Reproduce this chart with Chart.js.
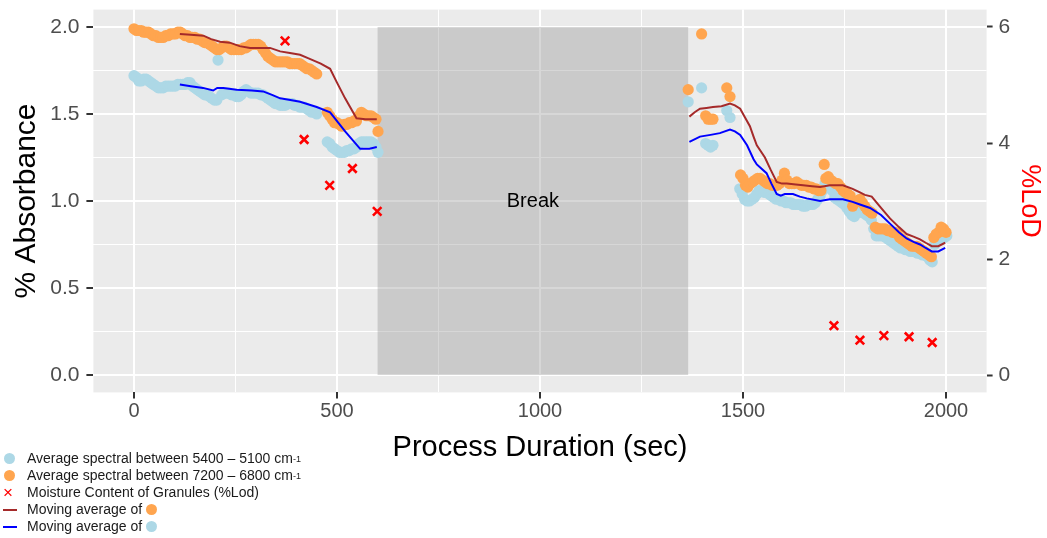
<!DOCTYPE html>
<html>
<head>
<meta charset="utf-8">
<script src="https://cdn.jsdelivr.net/npm/chart.js@4/dist/chart.umd.min.js"></script>
<style>
  html, body { margin: 0; padding: 0; background: #fff; }
  #wrap { position: relative; width: 1047px; height: 538px; overflow: hidden; }
  #legend { position: absolute; left: 0; top: 450px; font: 14px "Liberation Sans", Arial, sans-serif; color: #1a1a1a; }
  .row { height: 17px; line-height: 17px; display: flex; align-items: center; white-space: nowrap; }
  .key { width: 27px; height: 17px; position: relative; flex: none; }
  .key .dot { position: absolute; left: 4px; top: 3px; }
  .dot { display: inline-block; width: 11px; height: 11px; border-radius: 50%; }
  .ln { position: absolute; left: 3px; top: 8px; width: 14px; height: 2px; }
  .cross { position: absolute; left: 3px; top: 0; color: #f00; font-size: 17px; line-height: 17px; }
  sup { font-size: 9px; line-height: 0; vertical-align: 5px; }
  .after { margin-left: 4px; }
</style>
</head>
<body>
<div id="wrap">
  <canvas id="c" width="1047" height="538"></canvas>
  <div id="legend">
    <div class="row"><span class="key"><span class="dot" style="background:#ADD8E6"></span></span>Average spectral between 5400 – 5100 cm<sup>-1</sup></div>
    <div class="row"><span class="key"><span class="dot" style="background:#FFA54F"></span></span>Average spectral between 7200 – 6800 cm<sup>-1</sup></div>
    <div class="row"><span class="key"><span class="cross">×</span></span>Moisture Content of Granules (%Lod)</div>
    <div class="row"><span class="key"><span class="ln" style="background:#A52A2A"></span></span>Moving average of<span class="dot after" style="background:#FFA54F"></span></div>
    <div class="row"><span class="key"><span class="ln" style="background:#0000FF"></span></span>Moving average of<span class="dot after" style="background:#ADD8E6"></span></div>
  </div>
</div>
<script>
// Average absorbance, 5400 – 5100 cm-1 band (light blue points)
const lowBandTime = [
  0, 6, 12, 18, 24, 30, 36, 42, 48, 54, 60, 66, 72, 78, 84, 90, 96, 102, 108, 114,
  120, 126, 132, 138, 144, 150, 156, 162, 168, 174, 180, 186, 192, 198, 204, 207,
  216, 222, 228, 234, 240, 246, 252, 258, 264, 270, 276, 282, 288, 294, 300, 306,
  312, 318, 324, 330, 336, 342, 348, 354, 360, 366, 372, 378, 384, 390, 396, 402,
  408, 414, 420, 426, 432, 438, 444, 450,
  476, 482, 488, 494, 500, 506, 512, 518, 524, 530, 536, 542, 548, 554, 560, 566,
  572, 578, 584, 590, 596, 601,
  1365, 1398, 1408, 1414, 1420, 1426, 1460, 1468,
  1492, 1498, 1504, 1510, 1516, 1522, 1528, 1534, 1540, 1546, 1552, 1558, 1564, 1570,
  1576, 1582, 1588, 1594, 1600, 1606, 1612, 1618, 1624, 1630, 1636, 1642, 1648, 1654,
  1660, 1666, 1672, 1678, 1684, 1690, 1696, 1702, 1708, 1714, 1720, 1726, 1732, 1738,
  1744, 1750, 1756, 1762, 1768, 1774, 1780, 1786, 1792, 1798, 1804, 1810, 1816, 1822,
  1828, 1834, 1840, 1846, 1852, 1858, 1864, 1870, 1876, 1882, 1888, 1894, 1900, 1906,
  1912, 1918, 1924, 1930, 1936, 1942, 1948, 1954, 1960, 1966, 1972, 1978, 1984, 1990,
  1996, 2002
];
const lowBandAbs = [
  1.72, 1.71, 1.69, 1.69, 1.70, 1.70, 1.69, 1.68, 1.67, 1.66, 1.65, 1.65, 1.65, 1.66, 1.66, 1.66, 1.66, 1.66, 1.67, 1.67,
  1.67, 1.67, 1.68, 1.68, 1.66, 1.65, 1.64, 1.63, 1.62, 1.61, 1.61, 1.60, 1.59, 1.58, 1.58, 1.81,
  1.61, 1.62, 1.62, 1.62, 1.61, 1.61, 1.60, 1.60, 1.61, 1.63, 1.64, 1.63, 1.62, 1.62, 1.62, 1.62,
  1.61, 1.61, 1.60, 1.59, 1.58, 1.57, 1.56, 1.56, 1.55, 1.55, 1.55, 1.56, 1.56, 1.56, 1.55, 1.55,
  1.54, 1.54, 1.54, 1.53, 1.52, 1.51, 1.51, 1.50,
  1.34, 1.33, 1.31, 1.30, 1.29, 1.28, 1.28, 1.28, 1.29, 1.29, 1.30, 1.30, 1.31, 1.33, 1.34, 1.34,
  1.34, 1.34, 1.34, 1.33, 1.31, 1.28,
  1.57, 1.65, 1.33, 1.32, 1.31, 1.32, 1.52, 1.48,
  1.07, 1.04, 1.01, 1.00, 1.00, 1.01, 1.02, 1.04, 1.06, 1.06, 1.05, 1.05, 1.04, 1.03,
  1.02, 1.01, 1.01, 1.00, 1.00, 0.99, 0.99, 0.99, 0.98, 0.98, 0.98, 0.98, 0.97, 0.97,
  0.98, 0.98, 0.98, 0.99, 1.01, 1.03, 1.06, 1.10, 1.11, 1.09, 1.06, 1.02, 1.01, 1.00,
  0.99, 0.98, 0.96, 0.94, 0.92, 0.91, 0.93, 0.95, 0.94, 0.93, 0.92, 0.91, 0.89, 0.84,
  0.80, 0.80, 0.80, 0.80, 0.79, 0.78, 0.77, 0.76, 0.75, 0.74, 0.73, 0.73, 0.72, 0.72,
  0.71, 0.71, 0.71, 0.70, 0.70, 0.69, 0.69, 0.68, 0.66, 0.65, 0.75, 0.77, 0.78, 0.79,
  0.79, 0.80
];

// Average absorbance, 7200 – 6800 cm-1 band (orange points)
const highBandTime = [
  0, 6, 12, 18, 24, 30, 36, 42, 48, 54, 60, 66, 72, 78, 84, 90, 96, 102, 108, 114,
  120, 126, 132, 138, 144, 150, 156, 162, 168, 174, 180, 186, 192, 198, 204, 210,
  216, 222, 228, 234, 240, 246, 252, 258, 264, 270, 276, 282, 288, 294, 300, 306,
  312, 318, 324, 330, 336, 342, 348, 354, 360, 366, 372, 378, 384, 390, 396, 402,
  408, 414, 420, 426, 432, 438, 444, 450,
  476, 482, 488, 494, 500, 506, 512, 518, 524, 530, 536, 542, 548, 554, 560, 566,
  572, 578, 584, 590, 596, 601,
  1365, 1398, 1408, 1414, 1420, 1426, 1460, 1468,
  1494, 1500, 1506, 1512, 1518, 1524, 1530, 1536, 1542, 1548, 1554, 1560, 1566, 1572,
  1578, 1584, 1590, 1596, 1602, 1608, 1614, 1620, 1626, 1632, 1638, 1644, 1650, 1656,
  1662, 1668, 1674, 1680, 1686, 1692, 1700, 1704, 1710, 1716, 1722, 1728, 1734, 1740,
  1746, 1752, 1758, 1764, 1770, 1776, 1782, 1788, 1794, 1800, 1806, 1812, 1818, 1826,
  1832, 1838, 1844, 1850, 1856, 1862, 1868, 1874, 1880, 1886, 1892, 1898, 1904, 1910,
  1916, 1922, 1928, 1934, 1940, 1946, 1952, 1958, 1964, 1970, 1976, 1982, 1988, 1994,
  2000
];
const highBandAbs = [
  1.99, 1.98, 1.98, 1.98, 1.97, 1.97, 1.97, 1.96, 1.95, 1.95, 1.94, 1.94, 1.94, 1.95, 1.95, 1.96, 1.96, 1.96, 1.97, 1.97,
  1.96, 1.95, 1.95, 1.94, 1.94, 1.94, 1.93, 1.93, 1.92, 1.91, 1.91, 1.90, 1.89, 1.88, 1.87, 1.87,
  1.88, 1.89, 1.89, 1.88, 1.87, 1.87, 1.87, 1.87, 1.87, 1.88, 1.88, 1.89, 1.90, 1.90, 1.90, 1.90,
  1.89, 1.87, 1.85, 1.83, 1.82, 1.81, 1.80, 1.80, 1.80, 1.80, 1.80, 1.80, 1.79, 1.79, 1.79, 1.79,
  1.79, 1.78, 1.77, 1.76, 1.76, 1.75, 1.74, 1.73,
  1.51, 1.49, 1.47, 1.45, 1.45, 1.44, 1.43, 1.44, 1.44, 1.45, 1.45, 1.46, 1.46, 1.49, 1.51, 1.50,
  1.49, 1.49, 1.49, 1.48, 1.47, 1.40,
  1.64, 1.96, 1.49, 1.47, 1.47, 1.47, 1.65, 1.60,
  1.15, 1.13, 1.09, 1.08, 1.10, 1.11, 1.12, 1.13, 1.13, 1.12, 1.11, 1.10, 1.10, 1.09,
  1.09, 1.09, 1.10, 1.12, 1.16, 1.12, 1.10, 1.10, 1.10, 1.11, 1.10, 1.09, 1.09, 1.09,
  1.08, 1.08, 1.07, 1.07, 1.06, 1.06, 1.21, 1.13, 1.14, 1.12, 1.11, 1.10, 1.10, 1.08,
  1.06, 1.05, 1.04, 1.03, 0.97, 0.99, 1.00, 1.01, 0.99, 0.97, 0.95, 0.94, 0.93, 0.85,
  0.84, 0.84, 0.84, 0.84, 0.83, 0.83, 0.82, 0.82, 0.81, 0.79, 0.78, 0.77, 0.76, 0.75,
  0.74, 0.74, 0.74, 0.73, 0.72, 0.71, 0.70, 0.69, 0.68, 0.79, 0.81, 0.82, 0.85, 0.84,
  0.82
];

// Moving averages (null splits the two runs either side of the break)
const highAvgTime = [
  113, 140, 171, 190, 212, 236, 260, 286, 310, 335, 360, 384, 409, 430, 460, 483, 500, 520, 548, 570, 598,
  1000,
  1368, 1381, 1394, 1410, 1426, 1447, 1468, 1480, 1493, 1505, 1517, 1526, 1534, 1554, 1568, 1583, 1596,
  1608, 1630, 1648, 1670, 1690, 1714, 1746, 1770, 1788, 1800, 1817, 1840, 1862, 1884, 1903, 1920, 1936,
  1950, 1965, 1981, 1998
];
const highAvgAbs = [
  1.96, 1.955, 1.95, 1.93, 1.915, 1.91, 1.89, 1.88, 1.88, 1.88, 1.86, 1.85, 1.84, 1.82, 1.79, 1.76, 1.68, 1.59, 1.475, 1.47, 1.47,
  null,
  1.485, 1.51, 1.53, 1.535, 1.54, 1.545, 1.56, 1.55, 1.53, 1.48, 1.43, 1.37, 1.32, 1.25, 1.18, 1.11, 1.10,
  1.10, 1.095, 1.09, 1.085, 1.08, 1.09, 1.09, 1.07, 1.05, 1.035, 1.025, 0.96, 0.90, 0.85, 0.81, 0.795, 0.78,
  0.76, 0.74, 0.74, 0.76
];
const lowAvgTime = [
  113, 140, 170, 195, 205, 220, 253, 290, 318, 340, 360, 385, 409, 450, 483, 520, 557, 580, 598,
  1000,
  1368, 1394, 1420, 1443, 1468, 1480, 1493, 1510, 1526, 1534, 1558, 1570, 1583, 1593, 1603, 1623, 1640,
  1657, 1690, 1714, 1746, 1770, 1788, 1813, 1840, 1862, 1884, 1903, 1920, 1936, 1950, 1965, 1981, 1998
];
const lowAvgAbs = [
  1.67, 1.66, 1.65, 1.635, 1.65, 1.65, 1.64, 1.635, 1.63, 1.61, 1.59, 1.58, 1.57, 1.54, 1.51, 1.40, 1.30, 1.30, 1.31,
  null,
  1.34, 1.37, 1.38, 1.39, 1.41, 1.40, 1.38, 1.32, 1.24, 1.21, 1.16, 1.10, 1.04, 1.03, 1.04, 1.04, 1.025,
  1.015, 1.00, 1.01, 1.01, 0.995, 0.98, 0.96, 0.92, 0.87, 0.82, 0.785, 0.765, 0.75, 0.73, 0.71, 0.71, 0.73
];

// Moisture content of granules (%LoD, right axis)
const lodTime = [372, 419, 482, 538, 599, 1724, 1788, 1847, 1909, 1966];
const lodValue = [5.76, 4.06, 3.27, 3.56, 2.82, 0.85, 0.60, 0.68, 0.66, 0.56];

// Process stop window and its label
const breakSpan = [600, 1365];
const breakTop = 2.0;
const breakLabel = 'Break';

// Axis breaks
const xMajor = [0, 500, 1000, 1500, 2000];
const xMinor = [250, 750, 1250, 1750];
const yMajor = [0, 0.5, 1.0, 1.5, 2.0];
const yMinor = [0.25, 0.75, 1.25, 1.75];
const lodTicks = [0, 2, 4, 6];

const pts = (xs, ys) => xs.map((x, i) => ({ x: x, y: ys[i] }));
const isMajor = (v, majors) => majors.some(m => Math.abs(m - v) < 1e-9);

const FONT = '"Liberation Sans", Arial, sans-serif';
const TICK_GREY = '#4D4D4D';

const panelPlugin = {
  id: 'panel',
  beforeDraw(chart) {
    const { ctx, chartArea: a } = chart;
    ctx.save();
    ctx.fillStyle = '#EBEBEB';
    ctx.fillRect(a.left, a.top, a.right - a.left, a.bottom - a.top);
    ctx.restore();
  },
  beforeDatasetsDraw(chart) {
    const { ctx, scales: { x, y } } = chart;
    const x0 = x.getPixelForValue(breakSpan[0]);
    const x1 = x.getPixelForValue(breakSpan[1]);
    const y0 = y.getPixelForValue(0);
    const y1 = y.getPixelForValue(breakTop);
    ctx.save();
    ctx.fillStyle = 'rgba(150,150,150,0.38)';
    ctx.fillRect(x0, y1, x1 - x0, y0 - y1);
    ctx.fillStyle = '#000';
    ctx.font = '20px ' + FONT;
    ctx.textAlign = 'center';
    ctx.textBaseline = 'middle';
    ctx.fillText(breakLabel, (x0 + x1) / 2, y.getPixelForValue(breakTop / 2));
    ctx.restore();
  }
};

const ticksFrom = list => list.slice().sort((a, b) => a - b).map(v => ({ value: v }));

new Chart(document.getElementById('c'), {
  type: 'scatter',
  data: {
    datasets: [
      {
        label: 'Moisture Content of Granules (%Lod)',
        data: pts(lodTime, lodValue),
        yAxisID: 'y2',
        pointStyle: 'crossRot',
        pointRadius: 6,
        borderColor: '#FF0000',
        borderWidth: 2.6,
        order: 0
      },
      {
        label: 'Moving average of 7200 – 6800 cm-1',
        data: pts(highAvgTime, highAvgAbs),
        yAxisID: 'y',
        showLine: true,
        spanGaps: false,
        pointRadius: 0,
        borderColor: '#A52A2A',
        borderWidth: 2,
        order: 1
      },
      {
        label: 'Moving average of 5400 – 5100 cm-1',
        data: pts(lowAvgTime, lowAvgAbs),
        yAxisID: 'y',
        showLine: true,
        spanGaps: false,
        pointRadius: 0,
        borderColor: '#0000FF',
        borderWidth: 2,
        order: 2
      },
      {
        label: 'Average spectral between 7200 – 6800 cm-1',
        data: pts(highBandTime, highBandAbs),
        yAxisID: 'y',
        pointRadius: 5.6,
        borderWidth: 0,
        backgroundColor: '#FFA54F',
        order: 3
      },
      {
        label: 'Average spectral between 5400 – 5100 cm-1',
        data: pts(lowBandTime, lowBandAbs),
        yAxisID: 'y',
        pointRadius: 5.6,
        borderWidth: 0,
        backgroundColor: '#ADD8E6',
        order: 4
      }
    ]
  },
  options: {
    responsive: false,
    animation: false,
    devicePixelRatio: 1,
    layout: { padding: { top: 9.6, left: 0, right: 0, bottom: 0 } },
    plugins: { legend: { display: false }, tooltip: { enabled: false } },
    scales: {
      x: {
        type: 'linear',
        min: -100,
        max: 2100,
        border: { display: false },
        afterBuildTicks: s => { s.ticks = ticksFrom(xMajor.concat(xMinor)); },
        afterFit: s => { s.height = 145.6; s.paddingLeft = 0; s.paddingRight = 0; },
        grid: {
          color: '#FFFFFF',
          lineWidth: c => isMajor(c.tick.value, xMajor) ? 2 : 1,
          tickColor: c => isMajor(c.tick.value, xMajor) ? '#333333' : 'rgba(0,0,0,0)',
          tickWidth: 2,
          tickLength: 6
        },
        ticks: {
          autoSkip: false,
          maxRotation: 0,
          padding: 1,
          color: TICK_GREY,
          font: { family: FONT, size: 20 },
          callback: v => isMajor(v, xMajor) ? String(v) : ''
        },
        title: {
          display: true,
          text: 'Process Duration (sec)',
          color: '#000',
          font: { family: FONT, size: 29 },
          padding: { top: 0, bottom: 73 }
        }
      },
      y: {
        type: 'linear',
        position: 'left',
        min: -0.1,
        max: 2.1,
        border: { display: false },
        afterBuildTicks: s => { s.ticks = ticksFrom(yMajor.concat(yMinor)); },
        afterFit: s => { s.width = 93.4; s.paddingTop = 0; s.paddingBottom = 0; },
        grid: {
          color: '#FFFFFF',
          lineWidth: c => isMajor(c.tick.value, yMajor) ? 2 : 1,
          tickColor: c => isMajor(c.tick.value, yMajor) ? '#333333' : 'rgba(0,0,0,0)',
          tickWidth: 2,
          tickLength: 7
        },
        ticks: {
          autoSkip: false,
          padding: 7,
          color: TICK_GREY,
          font: { family: FONT, size: 21 },
          callback: v => isMajor(v, yMajor) ? v.toFixed(1) : ''
        },
        title: {
          display: true,
          text: '% Absorbance',
          color: '#000',
          font: { family: FONT, size: 30 },
          padding: { top: 9, bottom: 0 }
        }
      },
      y2: {
        type: 'linear',
        position: 'right',
        min: -0.3,
        max: 6.3,
        border: { display: false },
        afterBuildTicks: s => { s.ticks = ticksFrom(lodTicks); },
        afterFit: s => { s.width = 60.4; s.paddingTop = 0; s.paddingBottom = 0; },
        grid: {
          drawOnChartArea: false,
          tickColor: '#333333',
          tickWidth: 2,
          tickLength: 6
        },
        ticks: {
          autoSkip: false,
          padding: 6,
          color: TICK_GREY,
          font: { family: FONT, size: 21 },
          callback: v => String(v)
        },
        title: {
          display: true,
          text: '%LoD',
          color: '#FF0000',
          font: { family: FONT, size: 27 },
          padding: { top: 1, bottom: 0 }
        }
      }
    }
  },
  plugins: [panelPlugin]
});
</script>
</body>
</html>
